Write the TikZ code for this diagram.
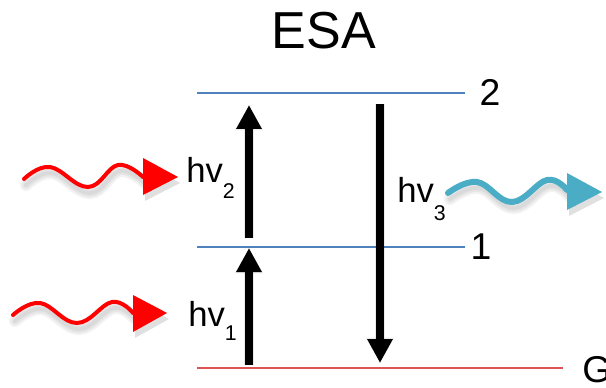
\documentclass[tikz,border=0pt]{standalone}
\usepackage{fontspec}
\setmainfont{Liberation Sans}
\usetikzlibrary{arrows.meta}
\definecolor{levelblue}{RGB}{79,129,189}
\definecolor{groundred}{RGB}{222,84,84}
\definecolor{emitblue}{RGB}{75,172,198}
\begin{document}
\begin{tikzpicture}[x=0.75pt,y=-0.75pt,
  level/.style={line width=1.6pt},
  levellabel/.style={inner sep=0pt,font=\fontsize{28}{28}\selectfont},
  trans/.style={line width=6pt,-{Triangle[width=18pt,length=18pt]}},
  transshadow/.style={line width=7pt,draw=black,opacity=0.08,-{Triangle[width=20pt,length=19pt]}},
  photon/.style={line width=3pt,line cap=round},
  softshadow/.style={draw=black,opacity=0.05,line cap=round},
  hvlabel/.style={anchor=base west,inner sep=0pt,font=\fontsize{26}{26}\selectfont}]
\useasboundingbox (0,0) rectangle (606,388);

% title
\node[inner sep=0pt,font=\fontsize{39}{39}\selectfont] (title) at (324,31) {ESA};

% energy levels
\coordinate (L2a) at (197,93);  \coordinate (L2b) at (465,93);
\coordinate (L1a) at (197,247); \coordinate (L1b) at (465,247);
\coordinate (Ga)  at (197,368); \coordinate (Gb)  at (563,368);
\draw[level,levelblue] (L2a) -- (L2b);
\draw[level,levelblue] (L1a) -- (L1b);
\draw[level,groundred] (Ga) -- (Gb);
\node[levellabel] (lab2) at (490,92) {2};
\node[levellabel] (lab1) at (481,247) {1};
\node[levellabel,anchor=west] (labG) at (582,370) {G};

% transitions
\coordinate (a1s) at (249,365); \coordinate (a1e) at (249,248);
\coordinate (a2s) at (249,238); \coordinate (a2e) at (249,105);
\coordinate (a3s) at (380,104); \coordinate (a3e) at (380,363);
\begin{scope}[shift={(3,3)}]
  \draw[transshadow] (a1s) -- (a1e);
  \draw[transshadow] (a2s) -- (a2e);
  \draw[transshadow] (a3s) -- (a3e);
\end{scope}
\draw[trans] (a1s) -- (a1e);
\draw[trans] (a2s) -- (a2e);
\draw[trans] (a3s) -- (a3e);

% photon paths
\def\wavetwo{(24,179) (50,167) (88,187) (118,165) (143,177)}
\def\waveone{(13,315) (40,303) (77,323) (112,302) (133,313)}
\def\wavethree{(448,193) (477,182) (512,202) (547,180) (567,190)}

% soft shadows under the photons
\begin{scope}[shift={(2,6)}]
  \foreach \w in {3,6,9} {
    \draw[softshadow,line width=\w pt] plot[smooth,tension=0.7] coordinates {\wavetwo};
    \draw[softshadow,line width=\w pt] plot[smooth,tension=0.7] coordinates {\waveone};
    \draw[softshadow,line width=\w pt] plot[smooth,tension=0.7] coordinates {\wavethree};
  }
  \fill[black,opacity=0.12] (143,158) -- (178,177) -- (143,195) -- cycle;
  \fill[black,opacity=0.12] (133,295) -- (167,313) -- (133,332) -- cycle;
  \fill[black,opacity=0.12] (567,173) -- (602,192) -- (567,210) -- cycle;
\end{scope}

% incoming photons
\draw[photon,red] plot[smooth,tension=0.7] coordinates {\wavetwo};
\fill[red] (143,158) -- (178,177) -- (143,195) -- cycle;
\draw[photon,red] plot[smooth,tension=0.7] coordinates {\waveone};
\fill[red] (133,295) -- (167,313) -- (133,332) -- cycle;

% emitted photon
\draw[photon,emitblue,line width=4.5pt] plot[smooth,tension=0.7] coordinates {\wavethree};
\fill[emitblue] (567,173) -- (602,192) -- (567,210) -- cycle;

% photon energies
\node[hvlabel] (hv2) at (186,183) {hv\raisebox{-12pt}{\fontsize{16}{16}\selectfont 2}};
\node[hvlabel] (hv1) at (188,326) {hv\raisebox{-11pt}{\fontsize{16}{16}\selectfont 1}};
\node[hvlabel] (hv3) at (397,203) {hv\raisebox{-13pt}{\fontsize{16}{16}\selectfont 3}};
\end{tikzpicture}
\end{document}
